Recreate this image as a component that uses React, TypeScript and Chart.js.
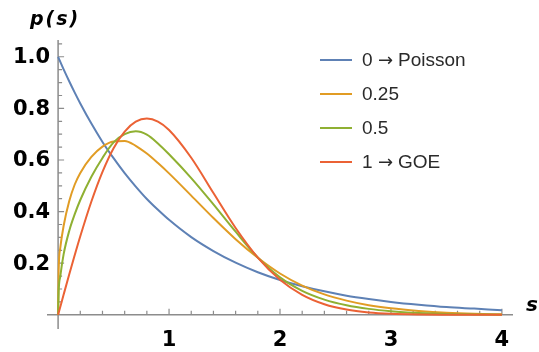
import React, { useEffect, useRef } from "react";
import { Chart, registerables } from "chart.js";

Chart.register(...registerables);

// spacing s (x values shared by all series)
const sValues = [0, 0.005, 0.02, 0.05, 0.1, 0.15, 0.2, 0.3, 0.4, 0.5, 0.6, 0.7, 0.8, 0.9, 1.0, 1.2, 1.4, 1.6, 1.8, 2.0, 2.2, 2.4, 2.6, 2.8, 3.0, 3.25, 3.5, 3.75, 4.0];

// p(s)
const poissonValues = [1, 0.995, 0.98, 0.951, 0.905, 0.861, 0.819, 0.741, 0.67, 0.607, 0.549, 0.497, 0.449, 0.407, 0.368, 0.301, 0.247, 0.202, 0.165, 0.135, 0.111, 0.091, 0.074, 0.061, 0.05, 0.039, 0.03, 0.024, 0.018];
const quarterValues = [0, 0.17, 0.26, 0.345, 0.44, 0.505, 0.55, 0.612, 0.652, 0.672, 0.674, 0.655, 0.625, 0.588, 0.548, 0.462, 0.375, 0.293, 0.221, 0.16, 0.113, 0.079, 0.055, 0.037, 0.025, 0.015, 0.008, 0.004, 0.002];
const halfValues = [0, 0.09, 0.15, 0.235, 0.325, 0.39, 0.445, 0.535, 0.608, 0.668, 0.7, 0.711, 0.698, 0.664, 0.622, 0.53, 0.428, 0.322, 0.222, 0.145, 0.093, 0.059, 0.037, 0.023, 0.014, 0.007, 0.003, 0.0015, 0.0007];
const goeValues = [0, 0.0079, 0.0314, 0.0784, 0.1559, 0.2315, 0.3044, 0.4391, 0.5541, 0.6459, 0.7102, 0.7483, 0.7605, 0.7487, 0.7162, 0.6086, 0.4718, 0.3364, 0.2217, 0.1357, 0.0772, 0.0409, 0.0202, 0.0093, 0.004, 0.0013, 0.0004, 0.0001, 0.0];

const seriesLabels = ["0 \u2192 Poisson", "0.25", "0.5", "1 \u2192 GOE"];
const seriesColors = ["#5E81B5", "#E19C24", "#8FB032", "#EB6235"];

const xTickValues = [1, 2, 3, 4];
const xTickLabels = ["1", "2", "3", "4"];
const yTickValues = [0.2, 0.4, 0.6, 0.8, 1.0];
const yTickLabels = ["0.2", "0.4", "0.6", "0.8", "1.0"];

const AXIS_COLOR = "#8c8c8c";
const TICK_FONT = "bold 21px 'DejaVu Sans', sans-serif";
const LEGEND_FONT = "19px 'Liberation Sans', Arial, sans-serif";
const ARROW_FONT = "18px 'DejaVu Sans', sans-serif";

const axesPlugin = {
  id: "mmaAxes",
  beforeDatasetsDraw(chart: any) {
    const ctx = chart.ctx;
    const xs = chart.scales.x;
    const ys = chart.scales.y;
    const area = chart.chartArea;
    const x0 = xs.getPixelForValue(0);
    const y0 = ys.getPixelForValue(0);
    ctx.save();
    ctx.strokeStyle = AXIS_COLOR;
    ctx.lineWidth = 1.5;
    ctx.beginPath();
    ctx.moveTo(area.left, y0);
    ctx.lineTo(area.right, y0);
    ctx.moveTo(x0, area.top);
    ctx.lineTo(x0, area.bottom);
    ctx.stroke();
    ctx.lineWidth = 1.2;
    ctx.beginPath();
    for (let i = 1; i <= 20; i++) {
      const v = i * 0.2;
      const px = xs.getPixelForValue(v);
      const major = i % 5 === 0;
      ctx.moveTo(px, y0);
      ctx.lineTo(px, y0 - (major ? 6 : 4));
    }
    for (let i = 1; i <= 21; i++) {
      const v = i * 0.05;
      const py = ys.getPixelForValue(v);
      const major = i % 4 === 0;
      ctx.moveTo(x0, py);
      ctx.lineTo(x0 + (major ? 6 : 4), py);
    }
    ctx.stroke();
    ctx.restore();
  },
  afterDraw(chart: any) {
    const ctx = chart.ctx;
    const xs = chart.scales.x;
    const ys = chart.scales.y;
    const x0 = xs.getPixelForValue(0);
    const y0 = ys.getPixelForValue(0);
    ctx.save();
    ctx.fillStyle = "#000";
    ctx.font = TICK_FONT;
    ctx.textAlign = "right";
    ctx.textBaseline = "middle";
    yTickValues.forEach((v, i) => {
      ctx.fillText(yTickLabels[i], x0 - 8, ys.getPixelForValue(v) + 1);
    });
    ctx.textAlign = "center";
    xTickValues.forEach((v, i) => {
      ctx.fillText(xTickLabels[i], xs.getPixelForValue(v), y0 + 26);
    });
    // axis labels
    ctx.font = "bold italic 19px 'DejaVu Sans', sans-serif";
    (ctx as any).letterSpacing = "2px";
    ctx.textAlign = "center";
    ctx.fillText("p(s)", x0 - 3, 20);
    (ctx as any).letterSpacing = "0px";
    ctx.font = "bold italic 20px 'DejaVu Sans', sans-serif";
    ctx.textAlign = "left";
    ctx.fillText("s", chart.chartArea.right + 13, y0 - 9);
    // legend
    const rows = [60, 94, 128, 162];
    ctx.textBaseline = "middle";
    ctx.textAlign = "left";
    seriesLabels.forEach((lab, i) => {
      ctx.strokeStyle = seriesColors[i];
      ctx.lineWidth = 2;
      ctx.beginPath();
      ctx.moveTo(320, rows[i]);
      ctx.lineTo(352, rows[i]);
      ctx.stroke();
      ctx.fillStyle = "#2a2a2a";
      const parts = lab.split(" \u2192 ");
      ctx.font = LEGEND_FONT;
      ctx.fillText(parts[0], 362, rows[i] + 1);
      if (parts.length > 1) {
        ctx.font = ARROW_FONT;
        ctx.fillText("\u2192", 378, rows[i] + 1);
        ctx.font = LEGEND_FONT;
        ctx.fillText(parts[1], 398, rows[i] + 1);
      }
    });
    ctx.restore();
  },
};

export default function App() {
  const canvasRef = useRef<HTMLCanvasElement | null>(null);
  useEffect(() => {
    const seriesValues = [poissonValues, quarterValues, halfValues, goeValues];
    const datasets = seriesValues.map((vals, i) => ({
      label: seriesLabels[i],
      data: sValues.map((s, j) => ({ x: s, y: vals[j] })),
      borderColor: seriesColors[i],
      backgroundColor: seriesColors[i],
      borderWidth: 2,
      pointRadius: 0,
      cubicInterpolationMode: "monotone" as const,
      fill: false,
      order: 4 - i,
    }));
    const chart = new Chart(canvasRef.current as HTMLCanvasElement, {
      type: "line",
      data: { datasets },
      options: {
        animation: false,
        responsive: false,
        devicePixelRatio: 1,
        layout: { padding: { left: 47, right: 26, top: 40, bottom: 23 } },
        scales: {
          x: { type: "linear", min: -0.1, max: 4.1, display: false },
          y: { type: "linear", min: -0.055, max: 1.065, display: false },
        },
        plugins: { legend: { display: false }, tooltip: { enabled: false } },
      },
      plugins: [axesPlugin],
    });
    return () => chart.destroy();
  }, []);
  return (
    <div style={{ position: "absolute", left: 0, top: 0, width: 539, height: 352, background: "#fff" }}>
      <canvas ref={canvasRef} width={539} height={352} />
    </div>
  );
}
